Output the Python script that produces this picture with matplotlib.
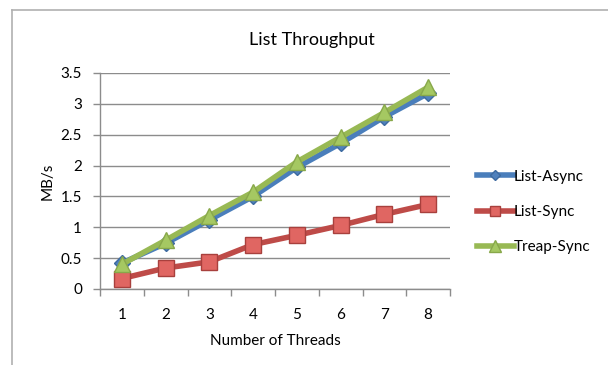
import matplotlib
matplotlib.use("Agg")
import matplotlib.pyplot as plt
from matplotlib.lines import Line2D

threads = [1, 2, 3, 4, 5, 6, 7, 8]
list_async = [0.42, 0.74, 1.12, 1.50, 1.97, 2.36, 2.79, 3.17]
list_sync = [0.17, 0.34, 0.44, 0.72, 0.87, 1.03, 1.21, 1.37]
treap_sync = [0.40, 0.79, 1.19, 1.57, 2.06, 2.46, 2.86, 3.27]

yticks = [0, 0.5, 1, 1.5, 2, 2.5, 3, 3.5]
ytick_labels = ['0', '0.5', '1', '1.5', '2', '2.5', '3', '3.5']

plt.rcParams['font.family'] = ['Lato', 'DejaVu Sans']

fig = plt.figure(figsize=(6.08, 3.65), dpi=100)
ax = fig.add_axes([100/608, 1 - 289/365, 350/608, 216/365])

grid_c = '#8c8c8c'
# green on top, then blue, red
ax.plot(threads, list_sync, color='#be4b48', lw=4, marker='s', ms=11,
        mfc='#e06662', mec='#a8403d', mew=1, label='List-Sync', zorder=3)
ax.plot(threads, list_async, color='#4a7ebb', lw=4, marker='D', ms=8,
        mfc='#4f81bd', mec='#3d6aa0', mew=1, label='List-Async', zorder=4)
ax.plot(threads, treap_sync, color='#98b954', lw=4, marker='^', ms=12,
        mfc='#a5c862', mec='#88a84a', mew=1, label='Treap-Sync', zorder=5)

ax.set_xlim(0.5, 8.5)
ax.set_ylim(0, 3.5)
ax.set_yticks(yticks)
ax.set_yticklabels(ytick_labels)
ax.set_xticks(threads)
ax.set_xticks([t + 0.5 for t in [0] + threads], minor=True)
ax.tick_params(axis='x', which='major', length=0, pad=14, labelsize=11)
ax.tick_params(axis='x', which='minor', length=5, color=grid_c, width=1)
ax.tick_params(axis='y', length=5, color=grid_c, width=1, pad=8, labelsize=11)
ax.grid(axis='y', color=grid_c, lw=1)
ax.set_axisbelow(True)
for s in ['top', 'right']:
    ax.spines[s].set_visible(False)
for s in ['left', 'bottom']:
    ax.spines[s].set_color(grid_c)
    ax.spines[s].set_linewidth(1)

ax.set_xlabel('Number of Threads', fontsize=11, labelpad=8)
ax.set_ylabel('MB/s', fontsize=11, labelpad=4)
fig.text(312/608, 1 - 40/365, 'List Throughput', ha='center', va='center', fontsize=13)

handles = [ax.get_lines()[1], ax.get_lines()[0], ax.get_lines()[2]]
fig.legend(handles=handles, labels=['List-Async', 'List-Sync', 'Treap-Sync'],
           loc='center left', bbox_to_anchor=(477/608, 1 - 212/365),
           frameon=False, fontsize=11, handlelength=2.4, handletextpad=0.0,
           labelspacing=1.4, markerscale=0.7, borderpad=0.0, borderaxespad=0.0)

# chart frame (left and top edges visible)
fig.add_artist(Line2D([12/608, 12/608], [0, 1 - 10/365], color='#b0b0b0', lw=1.2,
                      transform=fig.transFigure))
fig.add_artist(Line2D([12/608, 1], [1 - 10/365, 1 - 10/365], color='#b0b0b0', lw=1.2,
                      transform=fig.transFigure))

fig.savefig('out.png', dpi=100)
